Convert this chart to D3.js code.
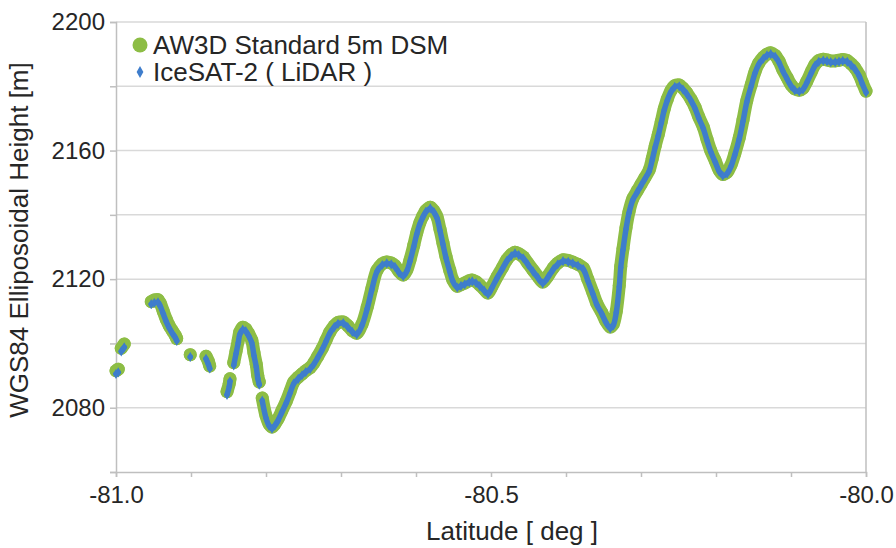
<!DOCTYPE html>
<html>
<head>
<meta charset="utf-8">
<script src="https://cdn.jsdelivr.net/npm/d3@7"></script>
<style>
  body { margin: 0; background: #fff; }
  svg text { font-family: "Liberation Sans", Arial, sans-serif; fill: #262626; }
</style>
</head>
<body>
<script>
// Axis ticks and labels
const xTickValues = [-81.0, -80.9, -80.8, -80.7, -80.6, -80.5, -80.4, -80.3, -80.2, -80.1, -80.0];
const xTickLabels = [-81.0, -80.5, -80.0];
const yTickValues = [2060, 2080, 2100, 2120, 2140, 2160, 2180, 2200];
const yTickLabels = [2080, 2120, 2160, 2200];

const seriesNames = ["AW3D Standard 5m DSM", "IceSAT-2 ( LiDAR )"];

// Latitude of each sample (null = gap in the track)
const lat = [
  -81.000, -80.997, null,
  -80.993, -80.989, null,
  -80.953, -80.949, -80.944, -80.941, -80.937, -80.933, -80.929, -80.925, -80.921, -80.919, null,
  -80.901, null,
  -80.880, -80.877, -80.875, null,
  -80.852, -80.849, -80.848, null,
  -80.843, -80.840, -80.837, -80.835, -80.831, -80.827, -80.823, -80.819, -80.816, -80.813, -80.811, -80.809, null,
  -80.805, -80.800, -80.796, -80.792, -80.788, -80.784, -80.779, -80.773, -80.768, -80.763,
  -80.757, -80.752, -80.747, -80.741, -80.736, -80.731, -80.725, -80.720, -80.715, -80.709,
  -80.704, -80.697, -80.691, -80.685, -80.679, -80.672, -80.665, -80.659, -80.652, -80.645,
  -80.639, -80.633, -80.628, -80.623, -80.617, -80.612, -80.608, -80.603, -80.599, -80.595,
  -80.591, -80.587, -80.581, -80.576, -80.572, -80.568, -80.564, -80.560, -80.555, -80.551,
  -80.545, -80.540, -80.535, -80.529, -80.525, -80.520, -80.515, -80.509, -80.504, -80.499,
  -80.492, -80.485, -80.479, -80.473, -80.468, -80.463, -80.457, -80.451, -80.444, -80.437,
  -80.431, -80.424, -80.417, -80.411, -80.404, -80.397, -80.391, -80.384, -80.377, -80.371,
  -80.364, -80.359, -80.352, -80.347, -80.341, -80.337, -80.333, -80.329, -80.327, -80.324,
  -80.320, -80.316, -80.311, -80.305, -80.300, -80.295, -80.289, -80.285, -80.281, -80.277,
  -80.273, -80.269, -80.265, -80.260, -80.255, -80.249, -80.244, -80.239, -80.233, -80.228,
  -80.223, -80.217, -80.212, -80.207, -80.201, -80.196, -80.191, -80.185, -80.180, -80.175,
  -80.169, -80.164, -80.159, -80.153, -80.148, -80.143, -80.137, -80.132, -80.127, -80.121,
  -80.116, -80.111, -80.105, -80.100, -80.095, -80.089, -80.084, -80.079, -80.073, -80.068,
  -80.063, -80.057, -80.052, -80.047, -80.041, -80.036, -80.031, -80.025, -80.020, -80.015,
  -80.009, -80.005, -80.000
];

// AW3D DSM heights [m]
const aw3d = [
  2091.5, 2092.0, null,
  2098.5, 2099.8, null,
  2113.0, 2113.5, 2113.6, 2112.5, 2110.0, 2107.5, 2105.5, 2104.0, 2102.5, 2101.5, null,
  2096.5, null,
  2096.0, 2094.5, 2093.0, null,
  2085.0, 2087.5, 2089.0, null,
  2094.0, 2097.5, 2101.0, 2103.5, 2105.0, 2104.5, 2103.0, 2101.0, 2097.0, 2093.5, 2090.0, 2088.0, null,
  2083.0, 2077.5, 2075.0, 2074.0, 2075.0, 2076.5, 2079.0, 2082.0, 2085.0, 2088.0,
  2089.5, 2090.5, 2091.5, 2092.5, 2094.0, 2096.0, 2098.5, 2101.0, 2103.5, 2105.5,
  2106.5, 2106.7, 2105.5, 2104.0, 2103.2, 2106.0, 2111.3, 2117.0, 2122.8, 2124.8,
  2125.3, 2125.0, 2124.2, 2122.5, 2121.3, 2123.0, 2126.0, 2130.5, 2134.4, 2137.5,
  2139.6, 2141.3, 2142.4, 2141.2, 2139.4, 2135.5, 2131.2, 2127.0, 2122.8, 2119.8,
  2117.8, 2118.3, 2118.8, 2119.5, 2119.7, 2119.2, 2118.2, 2116.8, 2115.7, 2117.6,
  2120.7, 2123.5, 2126.0, 2127.6, 2128.4, 2127.9, 2126.9, 2125.0, 2122.8, 2120.7,
  2119.1, 2121.0, 2123.5, 2125.0, 2126.0, 2125.8, 2125.3, 2124.6, 2123.5, 2120.0,
  2115.7, 2112.5, 2109.5, 2107.0, 2105.1, 2106.0, 2110.0, 2118.0, 2124.0, 2129.5,
  2136.0, 2141.0, 2145.0, 2147.5, 2149.5, 2151.5, 2154.0, 2157.5, 2161.5, 2165.0,
  2169.0, 2173.0, 2176.0, 2178.7, 2180.2, 2180.4, 2179.4, 2178.0, 2175.8, 2173.5,
  2170.5, 2167.3, 2163.5, 2160.0, 2156.8, 2154.0, 2152.6, 2153.3, 2155.5, 2159.0,
  2164.0, 2169.5, 2175.5, 2180.5, 2184.5, 2187.2, 2189.0, 2190.0, 2190.4, 2189.6,
  2187.8, 2185.2, 2182.6, 2180.5, 2179.2, 2178.8, 2179.4, 2181.5, 2184.5, 2186.8,
  2188.0, 2188.4, 2188.2, 2187.9, 2187.9, 2188.1, 2188.3, 2188.0, 2187.0, 2185.8,
  2183.5, 2181.2, 2178.5
];

// IceSAT-2 heights [m]
const icesat = [
  2090.5, 2091.0, null,
  2097.5, 2098.8, null,
  2112.2, 2112.6, 2112.8, 2111.6, 2109.2, 2106.8, 2104.8, 2103.2, 2101.8, 2100.8, null,
  2095.8, null,
  2095.2, 2093.6, 2092.2, null,
  2084.0, 2086.6, 2088.2, null,
  2093.2, 2096.8, 2100.2, 2102.8, 2104.3, 2103.8, 2102.3, 2100.2, 2096.2, 2092.7, 2089.2, 2087.2, null,
  2082.2, 2076.8, 2074.4, 2073.5, 2074.5, 2076.0, 2078.5, 2081.5, 2084.5, 2087.5,
  2089.0, 2090.1, 2091.1, 2092.1, 2093.6, 2095.6, 2098.1, 2100.6, 2103.1, 2105.1,
  2106.1, 2106.3, 2105.1, 2103.6, 2102.8, 2105.6, 2110.9, 2116.6, 2122.4, 2124.4,
  2124.9, 2124.6, 2123.8, 2122.1, 2120.9, 2122.6, 2125.6, 2130.1, 2134.0, 2137.1,
  2139.2, 2140.9, 2142.0, 2140.8, 2139.0, 2135.1, 2130.8, 2126.6, 2122.4, 2119.4,
  2117.4, 2117.9, 2118.4, 2119.1, 2119.3, 2118.8, 2117.8, 2116.4, 2115.3, 2117.2,
  2120.3, 2123.1, 2125.6, 2127.2, 2128.0, 2127.5, 2126.5, 2124.6, 2122.4, 2120.3,
  2118.7, 2120.6, 2123.1, 2124.6, 2125.6, 2125.4, 2124.9, 2124.2, 2123.1, 2119.6,
  2115.3, 2112.1, 2109.1, 2106.6, 2104.7, 2105.6, 2109.6, 2117.6, 2123.6, 2129.1,
  2135.6, 2140.6, 2144.6, 2147.1, 2149.1, 2151.1, 2153.6, 2157.1, 2161.1, 2164.6,
  2168.6, 2172.6, 2175.6, 2178.3, 2179.8, 2180.0, 2179.0, 2177.6, 2175.4, 2173.1,
  2170.1, 2166.9, 2163.1, 2159.6, 2156.4, 2153.6, 2152.2, 2152.9, 2155.1, 2158.6,
  2163.6, 2169.1, 2175.1, 2180.1, 2184.1, 2186.8, 2188.6, 2189.6, 2190.0, 2189.2,
  2187.4, 2184.8, 2182.2, 2180.1, 2178.8, 2178.4, 2179.0, 2181.1, 2184.1, 2186.4,
  2187.6, 2188.0, 2187.8, 2187.5, 2187.5, 2187.7, 2187.9, 2187.6, 2186.6, 2185.4,
  2183.1, 2180.8, 2178.1
];

const width = 896;
const height = 548;
const margin = { top: 22, right: 30, bottom: 76, left: 116 };
const innerWidth = width - margin.left - margin.right;
const innerHeight = height - margin.top - margin.bottom;

const green = "#8dbd45";
const blue = "#3e7dcc";
const gridColor = "#d9d9d9";
const axisColor = "#bfbfbf";

const svg = d3.select("body").append("svg")
  .attr("width", width)
  .attr("height", height);

const g = svg.append("g")
  .attr("transform", `translate(${margin.left},${margin.top})`);

const x = d3.scaleLinear().domain([-81, -80]).range([0, innerWidth]);
const y = d3.scaleLinear().domain([2060, 2200]).range([innerHeight, 0]);

// horizontal gridlines
g.append("g")
  .selectAll("line")
  .data(yTickValues.filter(d => d > 2060))
  .enter().append("line")
  .attr("x1", 0).attr("x2", innerWidth)
  .attr("y1", d => y(d)).attr("y2", d => y(d))
  .attr("stroke", gridColor)
  .attr("stroke-width", 1.5);

// right border
g.append("line")
  .attr("x1", innerWidth).attr("x2", innerWidth)
  .attr("y1", 0).attr("y2", innerHeight)
  .attr("stroke", axisColor)
  .attr("stroke-width", 1.5);

// axes
const yAxis = g.append("g")
  .call(d3.axisLeft(y)
    .tickValues(yTickValues)
    .tickSize(6)
    .tickPadding(5)
    .tickFormat(d => yTickLabels.includes(d) ? d : ""));

const xAxis = g.append("g")
  .attr("transform", `translate(0,${innerHeight})`)
  .call(d3.axisBottom(x)
    .tickValues(xTickValues)
    .tickSize(5)
    .tickPadding(9)
    .tickFormat(d => xTickLabels.some(v => Math.abs(v - d) < 1e-9) ? d.toFixed(1) : ""));

[yAxis, xAxis].forEach(a => {
  a.select(".domain").attr("stroke", axisColor).attr("stroke-width", 1.5);
  a.selectAll(".tick line").attr("stroke", axisColor).attr("stroke-width", 1.5);
  a.selectAll("text").attr("font-size", 24).attr("fill", "#262626");
});

// split a series into continuous segments
function segments(values) {
  const segs = [];
  let cur = [];
  lat.forEach((la, i) => {
    if (la === null || values[i] === null) {
      if (cur.length) segs.push(cur);
      cur = [];
    } else {
      cur.push({ lat: la, h: values[i] });
    }
  });
  if (cur.length) segs.push(cur);
  return segs;
}

const line = d3.line()
  .x(d => x(d.lat))
  .y(d => y(d.h))
  .curve(d3.curveCatmullRom);

const plot = g.append("g");

// AW3D: large green markers, dense enough to form a band
const aw3dSegs = segments(aw3d);
plot.selectAll(".aw3d-band")
  .data(aw3dSegs)
  .enter().append("path")
  .attr("d", line)
  .attr("fill", "none")
  .attr("stroke", green)
  .attr("stroke-width", 13)
  .attr("stroke-linecap", "round")
  .attr("stroke-linejoin", "round");

plot.selectAll(".aw3d-pt")
  .data(aw3dSegs.flat())
  .enter().append("circle")
  .attr("cx", d => x(d.lat))
  .attr("cy", d => y(d.h))
  .attr("r", 6.5)
  .attr("fill", green);

// IceSAT-2: small blue diamonds
const iceSegs = segments(icesat);
plot.selectAll(".ice-band")
  .data(iceSegs)
  .enter().append("path")
  .attr("d", line)
  .attr("fill", "none")
  .attr("stroke", blue)
  .attr("stroke-width", 5.5)
  .attr("stroke-linecap", "round")
  .attr("stroke-linejoin", "round");

const diamond = d3.symbol().type(d3.symbolDiamond).size(30);
plot.selectAll(".ice-pt")
  .data(iceSegs.flat())
  .enter().append("path")
  .attr("d", diamond)
  .attr("transform", d => `translate(${x(d.lat)},${y(d.h)})`)
  .attr("fill", blue);

// legend
const legend = g.append("g").attr("transform", "translate(24,23)");
legend.append("circle").attr("cx", 0).attr("cy", 0).attr("r", 7.5).attr("fill", green);
legend.append("text").attr("x", 13).attr("y", 0).attr("dy", "0.36em")
  .attr("font-size", 26).text(seriesNames[0]);
legend.append("path").attr("d", d3.symbol().type(d3.symbolDiamond).size(40))
  .attr("transform", "translate(0,27)").attr("fill", blue);
legend.append("text").attr("x", 13).attr("y", 27).attr("dy", "0.36em")
  .attr("font-size", 26).text(seriesNames[1]);

// axis titles
svg.append("text")
  .attr("transform", "translate(19,240) rotate(-90)")
  .attr("text-anchor", "middle")
  .attr("dy", "0.36em")
  .attr("font-size", 26)
  .text("WGS84 Elliposoidal Height [m]");

svg.append("text")
  .attr("x", 512)
  .attr("y", 531)
  .attr("text-anchor", "middle")
  .attr("dy", "0.36em")
  .attr("font-size", 26)
  .text("Latitude [ deg ]");
</script>
</body>
</html>
